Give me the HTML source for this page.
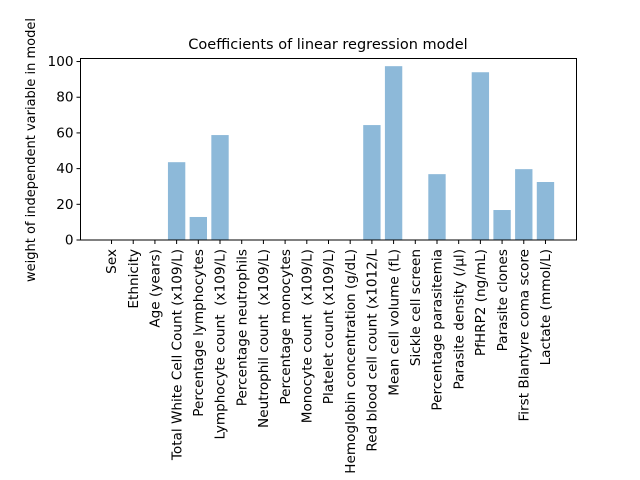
<!DOCTYPE html>
<html><head><meta charset="utf-8"><style>
html,body{margin:0;padding:0;background:#fff;}
svg{display:block;font-family:"DejaVu Sans","Liberation Sans",sans-serif;}
text{white-space:pre;}
</style></head><body>
<svg id="chart" width="640" height="480" viewBox="0 0 640 480" xmlns="http://www.w3.org/2000/svg" xml:space="preserve">
<rect width="640" height="480" fill="#fff"/>
<text x="328" y="49" font-size="14.5" text-anchor="middle" fill="#000">Coefficients of linear regression model</text>
<text transform="translate(35,150) rotate(-90)" font-size="13" text-anchor="middle" fill="#000">weight of independent variable in model</text>
<g id="bars"></g>
<g id="xticks"></g>
<g id="yticks"></g>
<rect x="80.5" y="58.5" width="496" height="181.5" fill="none" stroke="#000" stroke-width="1"/>
</svg>
<script>
const categories = ["Sex","Ethnicity","Age (years)","Total White Cell Count (x109/L)","Percentage lymphocytes","Lymphocyte count  (x109/L)","Percentage neutrophils","Neutrophil count  (x109/L)","Percentage monocytes","Monocyte count  (x109/L)","Platelet count (x109/L)","Hemoglobin concentration (g/dL)","Red blood cell count (x1012/L","Mean cell volume (fL)","Sickle cell screen","Percentage parasitemia","Parasite density (/µl)","PfHRP2 (ng/mL)","Parasite clones","First Blantyre coma score","Lactate (mmol/L)"];
const values = [0,0,0,43.6,12.9,58.8,0,0,0,0,0,0,64.4,97.4,0,36.9,0,94,16.8,39.7,32.5];
const yTicks = [0,20,40,60,80,100];

const NS="http://www.w3.org/2000/svg";
const L=80.5,R=576.5,T=58.5,B=240;
const xMin=-1.43,xMax=categories.length-1+1.43,yMin=0,yMax=101.7;
const xs=v=>L+(v-xMin)/(xMax-xMin)*(R-L);
const ys=v=>B-(v-yMin)/(yMax-yMin)*(B-T);
const bw=0.8*(R-L)/(xMax-xMin);
const bars=document.getElementById('bars'),xt=document.getElementById('xticks'),yt=document.getElementById('yticks');
values.forEach((v,i)=>{
  const r=document.createElementNS(NS,'rect');
  
  
  r.setAttribute('x',xs(i)-bw/2);r.setAttribute('y',ys(v));
  r.setAttribute('width',bw);r.setAttribute('height',Math.max(0,B-ys(v)));
  r.setAttribute('fill','#8db9d9');
  bars.appendChild(r);
});
categories.forEach((c,i)=>{
  const x=xs(i);
  const l=document.createElementNS(NS,'line');
  
  
  l.setAttribute('x1',x);l.setAttribute('x2',x);l.setAttribute('y1',B);l.setAttribute('y2',B+4);
  l.setAttribute('stroke','#000');
  xt.appendChild(l);
  const t=document.createElementNS(NS,'text');
  
  
  t.setAttribute('transform','translate('+(x+4.7)+','+(B+9)+') rotate(-90)');
  t.setAttribute('font-size','13.6');t.setAttribute('text-anchor','end');
  t.textContent=c;
  xt.appendChild(t);
});
yTicks.forEach(v=>{
  const y=ys(v);
  const l=document.createElementNS(NS,'line');
  
  
  l.setAttribute('x1',L-4);l.setAttribute('x2',L);l.setAttribute('y1',y);l.setAttribute('y2',y);
  l.setAttribute('stroke','#000');
  yt.appendChild(l);
  const t=document.createElementNS(NS,'text');
  
  
  t.setAttribute('x',L-7);t.setAttribute('y',y+4.5);
  t.setAttribute('font-size','13.6');t.setAttribute('text-anchor','end');
  t.textContent=v;
  yt.appendChild(t);
});
</script>
</body></html>
